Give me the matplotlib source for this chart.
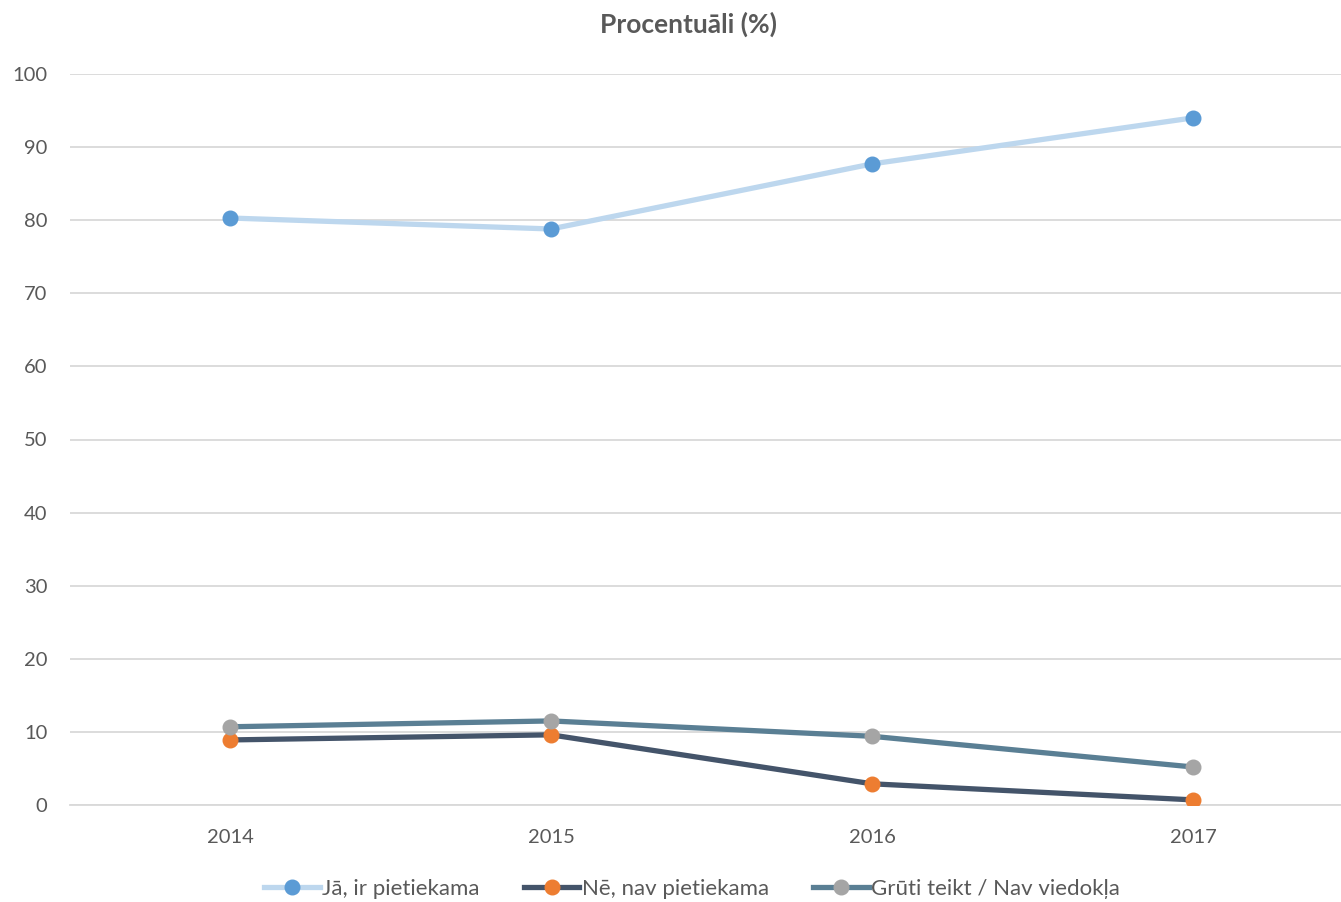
import numpy as np
import matplotlib.pyplot as plt

plt.rcParams['font.family'] = ['Lato', 'DejaVu Sans']

years = ["2014", "2015", "2016", "2017"]
ja = [80.3, 78.8, 87.7, 94.0]
ne = [8.9, 9.6, 2.9, 0.7]
gruti = [10.7, 11.5, 9.4, 5.2]

labels = ["Jā, ir pietiekama", "Nē, nav pietiekama", "Grūti teikt / Nav viedokļa"]
line_colors = ["#BDD7EE", "#44546A", "#5A7F94"]
marker_colors = ["#5B9BD5", "#ED7D31", "#A5A5A5"]
series = [ja, ne, gruti]

W, H = 1341, 902
fig = plt.figure(figsize=(W / 100, H / 100), dpi=100)
ax = fig.add_axes([69.5 / W, 1 - 805 / H, (W - 69.5) / W, (805 - 74) / H])

x = np.arange(len(years))
for vals, lc, mc, lab in zip(series, line_colors, marker_colors, labels):
    ax.plot(x, vals, color=lc, linewidth=3.8, marker='o', markersize=10.5,
            markerfacecolor=mc, markeredgecolor=mc, label=lab, zorder=3)

ax.set_xlim(-0.5, -0.5 + (W - 69.5) / 321)
ax.set_ylim(0, 100)
ax.set_yticks(range(0, 101, 10))
ax.set_xticks(x)
ax.set_xticklabels(years)
ax.grid(axis='y', color='#D9D9D9', linewidth=1.3)
ax.set_axisbelow(True)
for s in ['top', 'right', 'left']:
    ax.spines[s].set_visible(False)
ax.spines['bottom'].set_color('#D9D9D9')
ax.spines['bottom'].set_linewidth(1.3)
ax.tick_params(axis='both', length=0, labelsize=14.5, colors='#595959')
ax.tick_params(axis='y', pad=16)
ax.tick_params(axis='x', pad=17)

fig.text(688 / W, 1 - 24 / H, "Procentuāli (%)", ha='center', va='center',
         fontsize=19, fontweight='bold', color='#595959')

fig.legend(loc='center', bbox_to_anchor=(692 / W, 1 - 889 / H), ncol=3,
           frameon=False, fontsize=16, labelcolor='#595959',
           handlelength=2.5, handletextpad=0.1, columnspacing=2.0)

fig.savefig("out.png", dpi=100)
